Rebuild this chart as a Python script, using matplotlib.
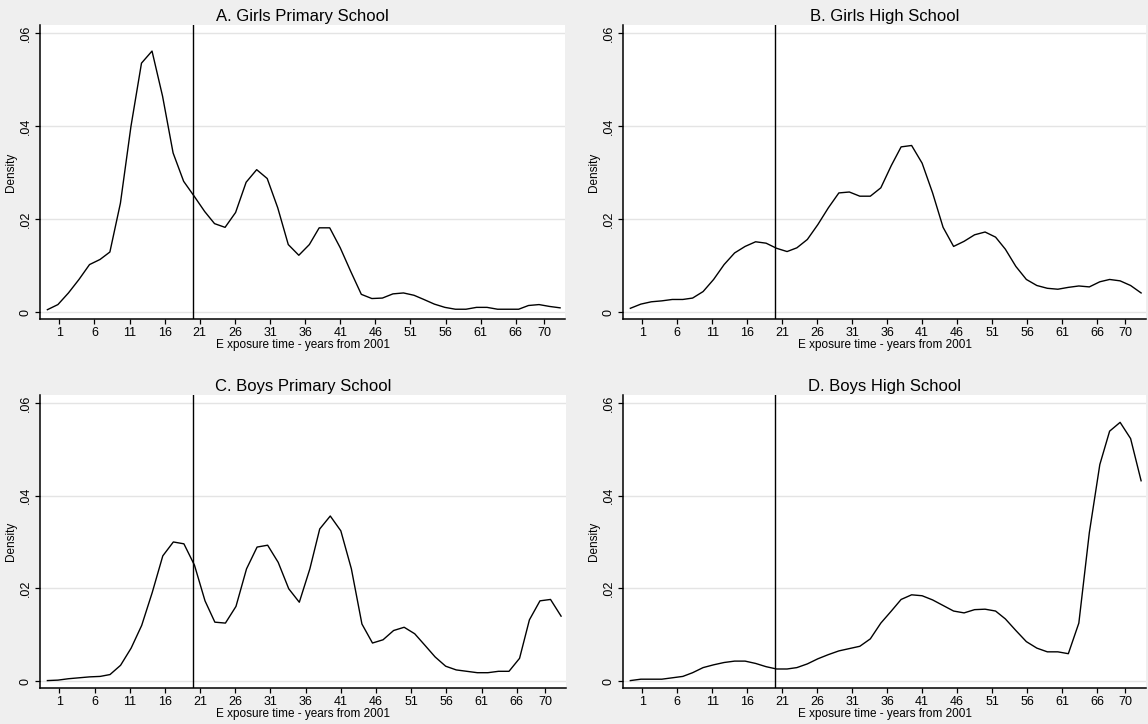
"""Kernel density of exposure time (years from 2001) by school type.

Four panels in a 2x2 grid, Stata-like styling: grey page, white plot
area, horizontal grid, and a vertical reference line at year 20.
"""

import matplotlib.pyplot as plt

plt.rcParams["font.family"] = ["Liberation Sans", "DejaVu Sans"]

# --- Data ---------------------------------------------------------------------
# Evaluation points of the density estimate (shared by all panels).
EXPOSURE = [-0.7, 0.8, 2.3, 3.8, 5.3, 6.8, 8.2, 9.7, 11.2, 12.7,
            14.2, 15.7, 17.2, 18.7, 20.2, 21.7, 23.1, 24.6, 26.1, 27.6,
            29.1, 30.6, 32.1, 33.6, 35.1, 36.6, 38.0, 39.5, 41.0, 42.5,
            44.0, 45.5, 47.0, 48.5, 50.0, 51.5, 52.9, 54.4, 55.9, 57.4,
            58.9, 60.4, 61.9, 63.4, 64.9, 66.4, 67.8, 69.3, 70.8, 72.3]

GIRLS_PRIMARY = [0.0005, 0.0016, 0.0041, 0.0070, 0.0102, 0.0113, 0.0129, 0.0234, 0.0399, 0.0535,
                 0.0561, 0.0464, 0.0342, 0.0281, 0.0249, 0.0216, 0.0190, 0.0182, 0.0214, 0.0279,
                 0.0306, 0.0287, 0.0224, 0.0145, 0.0122, 0.0145, 0.0181, 0.0181, 0.0138, 0.0087,
                 0.0038, 0.0029, 0.0030, 0.0039, 0.0041, 0.0036, 0.0027, 0.0017, 0.0010, 0.0006,
                 0.0006, 0.0010, 0.0010, 0.0006, 0.0006, 0.0006, 0.0014, 0.0016, 0.0012, 0.0009]

GIRLS_HIGH = [0.0008, 0.0017, 0.0022, 0.0024, 0.0027, 0.0027, 0.0030, 0.0044, 0.0070, 0.0102,
              0.0127, 0.0141, 0.0151, 0.0148, 0.0137, 0.0130, 0.0138, 0.0156, 0.0188, 0.0224,
              0.0256, 0.0258, 0.0249, 0.0249, 0.0267, 0.0315, 0.0355, 0.0358, 0.0320, 0.0256,
              0.0182, 0.0141, 0.0152, 0.0166, 0.0172, 0.0161, 0.0135, 0.0098, 0.0070, 0.0057,
              0.0051, 0.0049, 0.0053, 0.0056, 0.0054, 0.0065, 0.0070, 0.0067, 0.0057, 0.0041]

BOYS_PRIMARY = [0.0001, 0.0002, 0.0005, 0.0007, 0.0009, 0.0010, 0.0014, 0.0034, 0.0071, 0.0120,
                0.0191, 0.0270, 0.0300, 0.0296, 0.0250, 0.0173, 0.0127, 0.0125, 0.0161, 0.0242,
                0.0289, 0.0293, 0.0256, 0.0199, 0.0170, 0.0242, 0.0328, 0.0356, 0.0324, 0.0242,
                0.0123, 0.0082, 0.0089, 0.0109, 0.0116, 0.0102, 0.0078, 0.0052, 0.0032, 0.0024,
                0.0021, 0.0018, 0.0018, 0.0021, 0.0021, 0.0049, 0.0132, 0.0173, 0.0176, 0.0140]

BOYS_HIGH = [0.0001, 0.0004, 0.0004, 0.0004, 0.0007, 0.0010, 0.0018, 0.0029, 0.0035, 0.0040,
             0.0043, 0.0043, 0.0038, 0.0031, 0.0026, 0.0026, 0.0029, 0.0037, 0.0048, 0.0057,
             0.0065, 0.0070, 0.0075, 0.0091, 0.0125, 0.0151, 0.0176, 0.0186, 0.0184, 0.0175,
             0.0163, 0.0151, 0.0147, 0.0154, 0.0155, 0.0151, 0.0134, 0.0109, 0.0085, 0.0071,
             0.0063, 0.0063, 0.0059, 0.0125, 0.0320, 0.0467, 0.0539, 0.0558, 0.0523, 0.0432]

TITLES = ["A. Girls Primary School", "B. Girls High School",
          "C. Boys Primary School", "D. Boys High School"]
SERIES = [GIRLS_PRIMARY, GIRLS_HIGH, BOYS_PRIMARY, BOYS_HIGH]

X_TICKS = [1, 6, 11, 16, 21, 26, 31, 36, 41, 46, 51, 56, 61, 66, 70]
Y_TICKS = [0, 0.02, 0.04, 0.06]
Y_TICK_LABELS = ["0", ".02", ".04", ".06"]
CUTOFF_YEAR = 20

# --- Layout (pixels on a 1148x724 canvas) ---------------------------------------
FIG_W, FIG_H = 1148, 724
BG = "#efefef"
GRID = "#e4e4e4"
# (left, top, right, bottom) of each plot area
PANEL_BOXES = [
    (40, 25, 565, 319),
    (623, 25, 1146, 319),
    (40, 395, 566, 688),
    (623, 395, 1146, 688),
]


def px_rect(left, top, right, bottom):
    """Convert a pixel box into a figure-fraction rectangle."""
    return [left / FIG_W, 1 - bottom / FIG_H, (right - left) / FIG_W, (bottom - top) / FIG_H]


def draw_panel(ax, density, title):
    ax.set_facecolor("white")
    ax.plot(EXPOSURE, density, color="black", linewidth=1.0)
    ax.axvline(CUTOFF_YEAR, color="black", linewidth=1.0)

    ax.set_xlim(-1.75, 73.0)
    ax.set_ylim(-0.0015, 0.0617)

    ax.set_yticks(Y_TICKS)
    ax.set_yticklabels(Y_TICK_LABELS, rotation=90, va="center")
    ax.set_xticks(X_TICKS)
    ax.yaxis.grid(True, color=GRID, linewidth=1.0)
    ax.set_axisbelow(True)

    for side in ("top", "right"):
        ax.spines[side].set_visible(False)
    for side in ("left", "bottom"):
        ax.spines[side].set_linewidth(1.1)
    ax.tick_params(length=3.5, width=0.9, pad=2.5, labelsize=9)

    ax.set_title(title, fontsize=12, pad=3)
    ax.set_xlabel("E xposure time - years from 2001", fontsize=8.5, labelpad=0)
    ax.set_ylabel("Density", fontsize=8.5, labelpad=2)


def main():
    fig = plt.figure(figsize=(FIG_W / 100, FIG_H / 100), dpi=100, facecolor=BG)
    for box, density, title in zip(PANEL_BOXES, SERIES, TITLES):
        ax = fig.add_axes(px_rect(*box))
        draw_panel(ax, density, title)
    fig.savefig("out.png", dpi=100, facecolor=BG)


if __name__ == "__main__":
    main()
